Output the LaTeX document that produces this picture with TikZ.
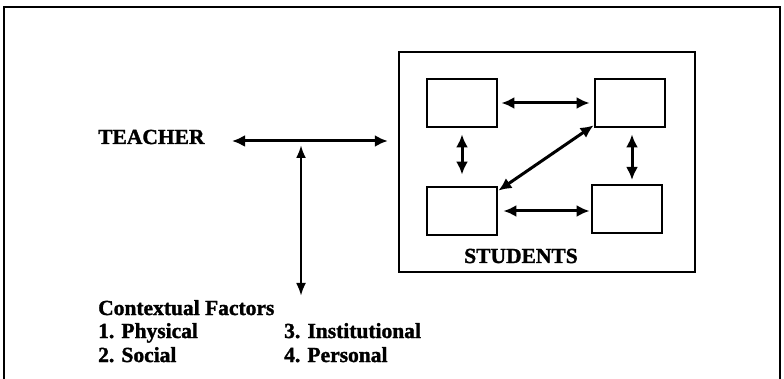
\documentclass[tikz,border=0pt]{standalone}
\usepackage{fontspec}
\setmainfont{Liberation Serif}[BoldFont={Liberation Serif Bold}, BoldFeatures={FakeBold=1.5}]
\usetikzlibrary{arrows.meta}
\tikzset{
  lbl/.style={font=\fontsize{21.5}{25}\selectfont\bfseries, inner sep=0pt, anchor=base west},
  sbox/.style={draw, line width=2.8pt, minimum width=70pt, minimum height=48pt, inner sep=0pt},
  twoway/.style={line width=3pt, {Latex[length=13pt,width=12pt]}-{Latex[length=13pt,width=12pt]}},
  thin2way/.style={line width=2.6pt, {Latex[length=13pt,width=10pt]}-{Latex[length=13pt,width=10pt]}},
  frame/.style={line width=2.6pt}
}
\begin{document}
\begin{tikzpicture}[x=1pt,y=-1pt]
\useasboundingbox (0,0) rectangle (784,379);
% outer frame (bottom cut off)
\draw[frame] (4,379) -- (4,7) -- (780,7) -- (780,379);
% teacher
\node[lbl] (teacher) at (98,144) {TEACHER};
% students box
\node[draw, line width=2.4pt, minimum width=296pt, minimum height=220pt, inner sep=0pt] (students) at (547,162) {};
\node[lbl, anchor=base] (stlabel) at (521,263) {STUDENTS};
% small boxes
\node[sbox] (s1) at (462,103) {};
\node[sbox] (s2) at (630,103) {};
\node[sbox] (s3) at (462,211) {};
\node[sbox] (s4) at (627,209) {};
% teacher <-> students
\coordinate (hl) at (232,141);
\draw[twoway] (hl) -- ([xshift=-10pt]students.west |- hl);
% vertical to contextual factors
\coordinate (j) at (301,145);
\coordinate (cf) at (301,296);
\draw[thin2way] (j) -- (cf);
% arrows between small boxes
\draw[twoway, shorten <=3pt, shorten >=4pt] (s1.east) -- (s2.west);
\draw[twoway, shorten <=5pt, shorten >=1pt] (s3.east) -- (s4.west |- s3.east);
\draw[twoway, shorten <=6pt, shorten >=11pt] (s1.south) -- (s3.north);
\draw[twoway, shorten <=6pt, shorten >=6pt] (s2.south -| 632,0) -- (632,186);
\draw[twoway] ([shift={(0,-3)}]s2.south west) -- ([shift={(0,5)}]s3.north east);
% contextual factors
\node[lbl] (ctx) at (98,315) {Contextual Factors};
\node[lbl] (f1) at (98,338) {1. Physical};
\node[lbl] (f3) at (284,338) {3. Institutional};
\node[lbl] (f2) at (98,362) {2. Social};
\node[lbl] (f4) at (284,362) {4. Personal};
\end{tikzpicture}
\end{document}
